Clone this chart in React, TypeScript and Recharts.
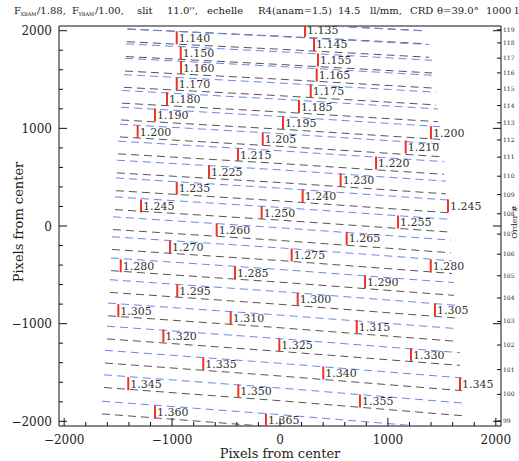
import React from 'react';
import { ScatterChart, Scatter, XAxis, YAxis } from 'recharts';

// echelle orders, top to bottom (120 and 98 only peek in at the edges)
const ORDERS = [120, 119, 118, 117, 116, 115, 114, 113, 112, 111, 110, 109, 108, 107, 106, 105, 104, 103, 102, 101, 100, 99, 98];
// order centre line: x of the ends, y at left end / centre column / right end
const ORDER_LEFT_X = [-1409, -1409, -1418, -1427, -1436, -1446, -1464, -1473, -1483, -1501, -1511, -1520, -1529, -1548, -1557, -1566, -1575, -1594, -1603, -1622, -1631, -1650, -1668];
const ORDER_RIGHT_X = [1344, 1362, 1381, 1409, 1427, 1446, 1464, 1483, 1501, 1520, 1538, 1557, 1575, 1585, 1594, 1612, 1631, 1650, 1668, 1687, 1705, 1724, 1742];
const ORDER_LEFT_Y = [2210, 2082, 1952, 1800, 1652, 1485, 1323, 1151, 977, 804, 609, 427, 233, 29, -175, -392, -615, -854, -1091, -1338, -1589, -1859, -2131];
const ORDER_MID_Y = [2140, 2009, 1875, 1719, 1568, 1399, 1233, 1057, 881, 705, 510, 322, 125, -83, -289, -510, -737, -977, -1219, -1471, -1724, -1997, -2273];
const ORDER_RIGHT_Y = [2065, 1931, 1793, 1632, 1477, 1305, 1133, 952, 774, 594, 394, 201, 3, -209, -421, -645, -877, -1117, -1362, -1621, -1879, -2154, -2435];
const CENTER_X = 0;
const SLIT_HALF = 65; // half the projected slit length, pixels

// wavelength markers (microns)
const WL_LABELS = ['1.135', '1.140', '1.145', '1.150', '1.155', '1.160', '1.165', '1.170', '1.175', '1.180', '1.185', '1.190', '1.195', '1.200', '1.200', '1.205', '1.210', '1.215', '1.220', '1.225', '1.230', '1.235', '1.240', '1.245', '1.245', '1.250', '1.255', '1.260', '1.265', '1.270', '1.275', '1.280', '1.280', '1.285', '1.290', '1.295', '1.300', '1.305', '1.305', '1.310', '1.315', '1.320', '1.325', '1.330', '1.335', '1.340', '1.345', '1.345', '1.350', '1.355', '1.360', '1.365'];
const WL_X = [232, -957, 315, -920, 352, -917, 340, -957, 285, -1047, 176, -1158, 28, 1399, -1319, -160, 1165, -389, 890, -658, 562, -957, 210, 1557, -1288, -170, 1094, -587, 618, -1019, 108, 1397, -1476, -417, 788, -952, 164, 1436, -1498, -457, 711, -1081, -6, 1214, -711, 401, 1668, -1406, -386, 741, -1158, -130];
const WL_Y = [2002, 1927, 1859, 1772, 1700, 1623, 1546, 1454, 1382, 1303, 1222, 1137, 1055, 955, 966, 891, 809, 730, 645, 556, 471, 386, 307, 205, 205, 136, 41, -41, -126, -215, -297, -410, -407, -478, -570, -663, -751, -860, -867, -942, -1031, -1126, -1219, -1318, -1410, -1505, -1618, -1615, -1690, -1792, -1905, -1987];

const DOMAIN: [number, number] = [-2048, 2048];
const MAJOR_TICKS = [-2000, -1000, 0, 1000, 2000];
const MINOR_TICKS = [-2000, -1800, -1600, -1400, -1200, -1000, -800, -600, -400, -200, 0, 200, 400, 600, 800, 1000, 1200, 1400, 1600, 1800, 2000];

const FONT = '"DejaVu Serif", serif';
const INK = '#111';
const BLACK_LINE = '#555';
const BLUE_LINE = '#6688ee';
const RED = '#f0302a';

const fmtTick = (v: number) => (v < 0 ? '\u2212' + Math.abs(v) : String(v));
const isMajor = (v: number) => MAJOR_TICKS.indexOf(v) >= 0;

// right axis: order number at the centre column
const ORDER_TICKS = ORDER_MID_Y.filter((y) => y >= DOMAIN[0] && y <= DOMAIN[1]);
const orderLabel = (v: number) => {
  const i = ORDER_MID_Y.indexOf(v);
  return i >= 0 ? String(ORDERS[i]) : '';
};

const edgeLine = (i: number, off: number) => [
  { x: ORDER_LEFT_X[i], y: ORDER_LEFT_Y[i] + off },
  { x: CENTER_X, y: ORDER_MID_Y[i] + off },
  { x: ORDER_RIGHT_X[i], y: ORDER_RIGHT_Y[i] + off },
];

const markers = WL_LABELS.map((label, i) => ({ x: WL_X[i], y: WL_Y[i], label }));

const NoDot = () => <g />;

const WaveMark = (props: any) => {
  const { cx, cy, payload } = props;
  return (
    <g>
      <line x1={cx} x2={cx} y1={cy - 6.5} y2={cy + 6.5} stroke={RED} strokeWidth={2} />
      <text x={cx + 2} y={cy + 4} fontSize={11} fontFamily={FONT} fill="#333">
        {payload.label}
      </text>
    </g>
  );
};

// ticks point into the frame, majors longer
const BottomTick = ({ x, y, payload }: any) => {
  const v = payload.value;
  const len = isMajor(v) ? 8 : 4;
  return (
    <g>
      <line x1={x} x2={x} y1={y} y2={y - len} stroke={INK} />
      {isMajor(v) && (
        <text x={x} y={y + 17.5} textAnchor="middle" fontSize={12} fontFamily={FONT} fill="#222">
          {fmtTick(v)}
        </text>
      )}
    </g>
  );
};

const TopTick = ({ x, y, payload }: any) => {
  const len = isMajor(payload.value) ? 8 : 4;
  return <line x1={x} x2={x} y1={y} y2={y + len} stroke={INK} />;
};

const LeftTick = ({ x, y, payload }: any) => {
  const v = payload.value;
  const len = isMajor(v) ? 8 : 4;
  return (
    <g>
      <line x1={x} x2={x + len} y1={y} y2={y} stroke={INK} />
      {isMajor(v) && (
        <text x={x - 7} y={y + 4.5} textAnchor="end" fontSize={12} fontFamily={FONT} fill="#222">
          {fmtTick(v)}
        </text>
      )}
    </g>
  );
};

const RightTick = ({ x, y, payload }: any) => {
  const v = payload.value;
  if (ORDER_TICKS.indexOf(v) >= 0) {
    return (
      <g>
        <line x1={x - 4} x2={x} y1={y} y2={y} stroke={INK} />
        <text x={x + 2} y={y + 2} fontSize={6} fontFamily={FONT} fill="#222">
          {orderLabel(v)}
        </text>
      </g>
    );
  }
  return <line x1={x - 8} x2={x} y1={y} y2={y} stroke={INK} />;
};

export default function App() {
  const axisCommon = {
    type: 'number' as const,
    domain: DOMAIN,
    allowDataOverflow: true,
    interval: 0 as const,
    tickSize: 0,
    tickMargin: 0,
    tickLine: false,
    axisLine: { stroke: INK, strokeWidth: 1 },
  };

  return (
    <div style={{ position: 'absolute', left: 0, top: 0, width: 519, height: 461, overflow: 'hidden', background: '#fff' }}>
      <ScatterChart width={519} height={461} margin={{ top: 0, right: 0, bottom: 0, left: 0 }}>
        <XAxis {...axisCommon} xAxisId="b" dataKey="x" orientation="bottom" height={35} ticks={MINOR_TICKS} tick={BottomTick} />
        <XAxis {...axisCommon} xAxisId="t" orientation="top" height={26} ticks={MINOR_TICKS} tick={TopTick} />
        <YAxis {...axisCommon} yAxisId="l" dataKey="y" orientation="left" width={59} ticks={MINOR_TICKS} tick={LeftTick} />
        <YAxis {...axisCommon} yAxisId="r" orientation="right" width={18} ticks={[...ORDER_TICKS, ...MAJOR_TICKS]} tick={RightTick} />

        {ORDERS.map((m, i) => (
          <Scatter key={`k${m}`} xAxisId="b" yAxisId="l" data={edgeLine(i, -SLIT_HALF)} shape={NoDot}
            line={{ stroke: BLACK_LINE, strokeWidth: 1, strokeDasharray: '8 5' }} lineType="joint"
            isAnimationActive={false} />
        ))}
        {ORDERS.map((m, i) => (
          <Scatter key={`b${m}`} xAxisId="b" yAxisId="l" data={edgeLine(i, SLIT_HALF)} shape={NoDot}
            line={{ stroke: BLUE_LINE, strokeWidth: 1, strokeDasharray: '8 5' }} lineType="joint"
            isAnimationActive={false} />
        ))}
        <Scatter xAxisId="b" yAxisId="l" data={markers} shape={WaveMark} isAnimationActive={false} />
      </ScatterChart>

      <svg width={519} height={461} style={{ position: 'absolute', left: 0, top: 0, pointerEvents: 'none' }}>
        <text y={14} fontSize={10} fontFamily={FONT} fill="#222">
          <tspan x={14}>F</tspan>
          <tspan x={20.5} dy={2} fontSize={5}>XBAM</tspan>
          <tspan x={37} dy={-2}>/1.88,</tspan>
          <tspan x={72}>F</tspan>
          <tspan x={78.5} dy={2} fontSize={5}>YBAM</tspan>
          <tspan x={95} dy={-2}>/1.00,</tspan>
          <tspan x={137}>slit</tspan>
          <tspan x={167}>11.0'',</tspan>
          <tspan x={207}>echelle</tspan>
          <tspan x={258}>R4(anam=1.5)</tspan>
          <tspan x={338}>14.5</tspan>
          <tspan x={370}>ll/mm,</tspan>
          <tspan x={410}>CRD</tspan>
          <tspan x={437}>θ=39.0°</tspan>
          <tspan x={486}>1000</tspan>
          <tspan x={515}>ll/mm</tspan>
        </text>
        <text x={280} y={458} textAnchor="middle" fontSize={13} fontFamily={FONT} fill="#222">
          Pixels from center
        </text>
        <text x={0} y={0} transform="translate(23,222) rotate(-90)" textAnchor="middle" fontSize={13}
          fontFamily={FONT} fill="#222">
          Pixels from center
        </text>
        <text x={0} y={0} transform="translate(517,222) rotate(-90)" textAnchor="middle" fontSize={8}
          fontFamily={FONT} fill="#222">
          Order #
        </text>
      </svg>
    </div>
  );
}
